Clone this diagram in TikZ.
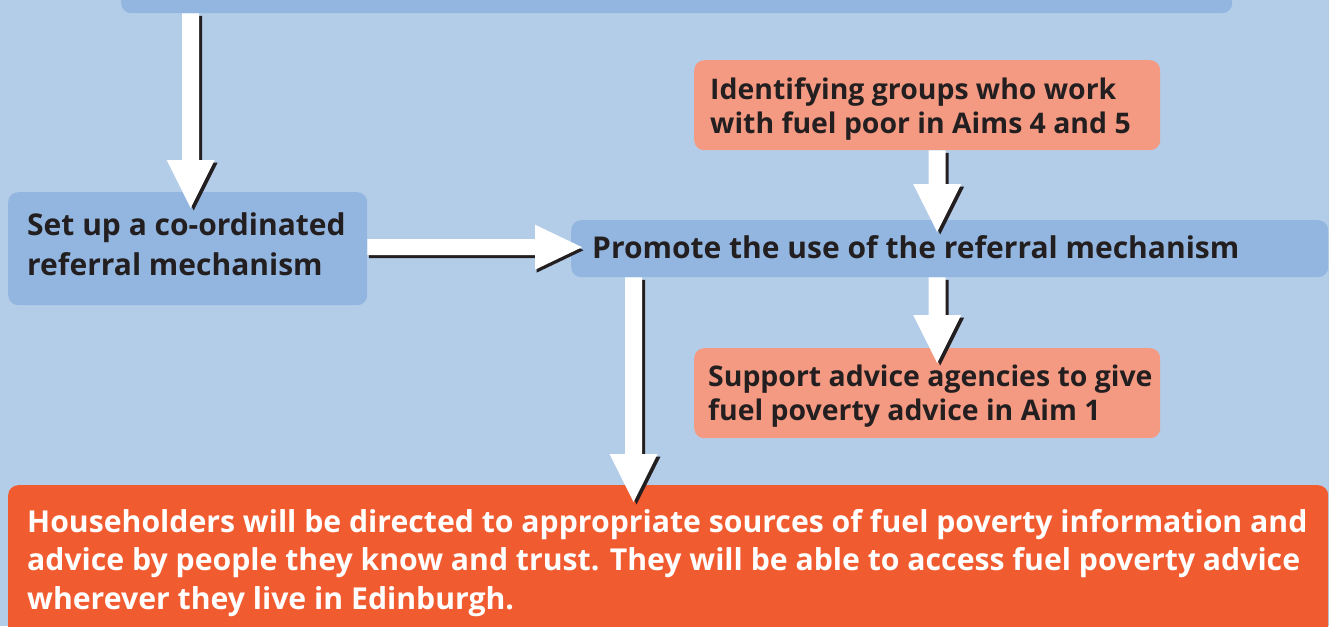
\documentclass[tikz,border=0pt]{standalone}
\usepackage{fontspec}
\setmainfont{Open Sans}
\usetikzlibrary{calc}
\definecolor{bgblue}{HTML}{B3CDE9}
\definecolor{boxblue}{HTML}{93B6E0}
\definecolor{salmon}{HTML}{F59A82}
\definecolor{deeporange}{HTML}{F15B30}
\definecolor{inkdark}{HTML}{231F20}
\tikzset{
  box/.style={rounded corners=10pt, inner sep=0pt, anchor=north west, draw=none},
  bluebox/.style={box, fill=boxblue},
  salmonbox/.style={box, fill=salmon},
  orangebox/.style={box, fill=deeporange},
  txt/.style={inner sep=0pt, anchor=base west, align=left, text=inkdark, font=\bfseries\fontsize{30}{40}\selectfont},
  salmontxt/.style={txt, font=\bfseries\fontsize{28.4}{34}\selectfont},
  shadowfill/.style={fill=inkdark, draw=none},
  arrowfill/.style={fill=white, draw=none},
}
% #1 style, #2 dx, #3 dy (canvas), #4 start, #5 tip
\newcommand\fatdownpath[5]{%
  \path[#1] let \p1=(#4), \p2=(#5) in
    (\x2-8.5pt+#2,\y1+#3) -- (\x2+8.5pt+#2,\y1+#3) -- (\x2+8.5pt+#2,\y2+48pt+#3) -- (\x2+24pt+#2,\y2+48pt+#3)
    -- (\x2+#2,\y2+#3) -- (\x2-24pt+#2,\y2+48pt+#3) -- (\x2-8.5pt+#2,\y2+48pt+#3) -- cycle;
}
\newcommand\fatrightpath[5]{%
  \path[#1] let \p1=(#4), \p2=(#5) in
    (\x1+#2,\y2+8pt+#3) -- (\x2-47pt+#2,\y2+8pt+#3) -- (\x2-47pt+#2,\y2+22.5pt+#3) -- (\x2+#2,\y2+#3)
    -- (\x2-47pt+#2,\y2-22.5pt+#3) -- (\x2-47pt+#2,\y2-8pt+#3) -- (\x1+#2,\y2-8pt+#3) -- cycle;
}
\newcommand\fatdown[2]{%
  \fatdownpath{shadowfill}{3pt}{-2.5pt}{#1}{#2}%
  \fatdownpath{arrowfill}{0pt}{0pt}{#1}{#2}%
}
\newcommand\fatright[2]{%
  \fatrightpath{shadowfill}{1.5pt}{-3pt}{#1}{#2}%
  \fatrightpath{arrowfill}{0pt}{0pt}{#1}{#2}%
}
\begin{document}
\begin{tikzpicture}[x=1pt, y=-1pt]
\useasboundingbox (0,0) rectangle (1329,626);
\fill[bgblue] (0,0) rectangle (1329,626);

% boxes
\node[bluebox, minimum width=1111pt, minimum height=43pt] (top) at (121,-30) {};
\node[bluebox, minimum width=359pt, minimum height=113pt] (setup) at (8,192) {};
\node[bluebox, minimum width=757pt, minimum height=57pt] (promote) at (571,220) {};
\node[salmonbox, minimum width=466pt, minimum height=90pt] (ident) at (694,60) {};
\node[salmonbox, minimum width=466pt, minimum height=90pt] (support) at (694,348) {};
\node[orangebox, minimum width=1320pt, minimum height=160pt] (bottom) at (8,485) {};

% arrow coordinates
\coordinate (a1x) at ($(setup.north)+(3,0)$);
\coordinate (a3x) at ($(ident.south)+(10,0)$);
\coordinate (a5x) at ($(promote.south west)+(62.5,0)$);

% arrows
\fatdown{a1x |- top.south}{$(a1x)+(0,16)$}
\fatright{setup.east}{$(promote.west)+(11,-1.5)$}
\fatdown{a3x}{$(a3x |- promote.north)+(0,12)$}
\fatdown{a3x |- promote.south}{$(a3x |- support.north)+(0,15)$}
\fatdown{a5x}{$(a5x |- bottom.north)+(0,17)$}

% texts (base anchor = baseline of the last line)
\node[txt] (tsetup) at (27,275) {Set up a co-ordinated\\referral mechanism};
\node[txt] (tpromote) at (592,258) {Promote the use of the referral mechanism};
\node[salmontxt] (tident) at (710,133) {Identifying groups who work\\with fuel poor in Aims 4 and 5};
\node[salmontxt] (tsupport) at (708,420) {Support advice agencies to give\\fuel poverty advice in Aim 1};
\node[txt, text=white, font=\bfseries\fontsize{30.2}{38.5}\selectfont] (tbottom) at (27,609) {Householders will be directed to appropriate sources of fuel poverty information and\\advice by people they know and trust. They will be able to access fuel poverty advice\\wherever they live in Edinburgh.};
\end{tikzpicture}
\end{document}
